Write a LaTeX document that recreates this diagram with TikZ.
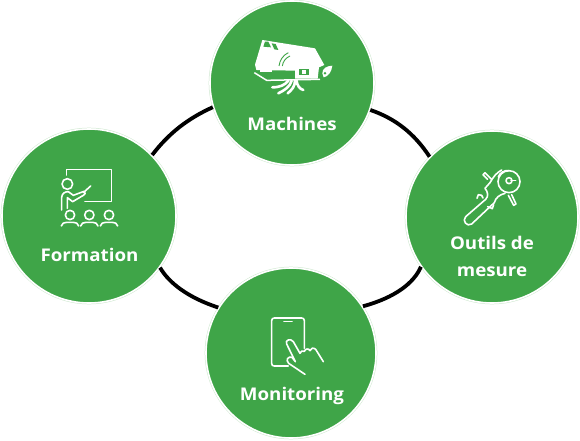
\documentclass[tikz,border=0pt]{standalone}
\usepackage{fontspec}
\setmainfont[FakeStretch=1.07]{Open Sans}
\definecolor{leaf}{HTML}{3FA548}
\definecolor{pale}{HTML}{CFE8D0}
\tikzset{
  hub/.style={circle,fill=leaf,draw=white,line width=1.6pt,inner sep=0pt,minimum size=#1,preaction={draw=pale,line width=2.6pt}},
  ring/.style={draw=black,line width=3.8pt},
  lab/.style={text=white,font=\bfseries\fontsize{17.5}{20}\selectfont,inner sep=0pt,align=center,anchor=base},
  ico/.style={draw=white,line width=1.6pt,line cap=round,line join=round,fill=none},
  icoshift/.style 2 args={shift={(#1,#2)},x=0.3333pt,y=-0.3333pt}
}
\begin{document}
\begin{tikzpicture}[x=1pt,y=-1pt]
\useasboundingbox (0,0) rectangle (580,441);
\coordinate (fc1) at (169,133); \coordinate (fc2) at (188,118.4);
\coordinate (rc1) at (395,118.4); \coordinate (rc2) at (414,133);
\coordinate (gc1) at (414,283); \coordinate (gc2) at (395,297.6);
\coordinate (hc1) at (188,297.6); \coordinate (hc2) at (169,283);
\node[hub=164pt] (machines) at (292,83) {};
\node[hub=174pt] (formation) at (89,216) {};
\node[hub=172pt] (outils) at (492,217) {};
\node[hub=170pt] (monitoring) at (291,353) {};
\draw[ring] (formation.44) .. controls (fc1) and (fc2) .. (machines.197);
\draw[ring] (machines.341) .. controls (rc1) and (rc2) .. (outils.136);
\draw[ring] (outils.215) .. controls (gc1) and (gc2) .. (monitoring.33);
\draw[ring] (monitoring.148) .. controls (hc1) and (hc2) .. (formation.-36);
\node[lab] (tm) at (292,130.7) {Machines};
\node[lab] (tf) at (89.5,261) {Formation};
\node[lab] (to1) at (492,249) {Outils de};
\node[lab] (to2) at (492,276.7) {mesure};
\node[lab] (tg) at (292,400.7) {Monitoring};
% machine icon
\begin{scope}[icoshift={245}{30}]
\fill[white] (52,30) -- (210,55) -- (238,105) -- (222,112) -- (218,146) -- (150,146) -- (150,122) -- (34,120) -- (30,104) -- cycle;
\fill[leaf] (163,116) rectangle (192,136);
\fill[white] (172,120) rectangle (184,131);
\fill[leaf] (60,35) -- (70,35) -- (78,52) -- (55,50) -- cycle;
\fill[leaf] (80,40) -- (92,42) -- (100,60) -- (88,58) -- cycle;
\draw[leaf,line width=.9pt] (102,108) .. controls (104,90) and (115,75) .. (130,68);
\draw[leaf,line width=.9pt] (112,108) .. controls (114,94) and (122,84) .. (135,78);
\fill[white] (46,117) rectangle (80,126);
\draw[white,line width=1.5pt,line join=round] (28,128) -- (65,151) -- (225,148);
\fill[white] (232,130) .. controls (232,115) and (245,108) .. (262,107) .. controls (260,125) and (250,140) .. (236,142) -- cycle;
\fill[leaf] (240,130) circle (4);
\draw[white,line width=2.6pt,line cap=round] (130,152) .. controls (120,165) and (105,172) .. (82,172);
\draw[white,line width=2.6pt,line cap=round] (140,152) .. controls (135,170) and (120,180) .. (100,190);
\draw[white,line width=2.6pt,line cap=round] (150,152) .. controls (150,170) and (140,180) .. (128,190);
\draw[white,line width=2.6pt,line cap=round] (155,152) .. controls (155,165) and (165,178) .. (175,180);
\end{scope}
% formation icon
\begin{scope}[icoshift={50}{160}]
\draw[ico] (50,45) -- (50,28) -- (185,28) -- (185,125) -- (105,125);
\draw[ico] (52,72) circle (16);
\draw[ico] (35,150) -- (35,112) .. controls (36,100) and (45,95) .. (55,95) -- (70,106) -- (102,94) .. controls (108,97) and (106,104) .. (100,106) -- (68,125) -- (52,113) -- (52,145);
\draw[ico] (100,98) -- (122,78);
\foreach \p in {60,118,177}{
  \draw[ico] (\p,165) circle (14);
  \draw[ico] (\p-26,198) .. controls (\p-24,190) and (\p-18,187) .. (\p-10,187) -- (\p+10,187) .. controls (\p+18,187) and (\p+24,190) .. (\p+26,198);
}
\end{scope}
% tool icon
\begin{scope}[icoshift={455}{160}]
\draw[ico] (162,65) circle (33);
\draw[ico] (162,62) circle (9);
\draw[ico] (168,62) -- (182,62);
\draw[ico] (130,50) .. controls (135,38) and (148,30) .. (162,32);
\draw[ico] (105,68) .. controls (115,50) and (125,38) .. (140,30);
\draw[ico] (105,68) -- (90,85) .. controls (98,95) and (102,108) .. (92,118) -- (32,170) .. controls (20,182) and (36,202) .. (50,192) -- (118,128) .. controls (122,112) and (135,104) .. (150,100);
\draw[ico] (98,58) -- (84,44) -- (90,38) -- (110,58);
\draw[ico] (160,106) -- (176,136) -- (183,132) -- (170,104);
\draw[ico] (66,115) -- (70,104) -- (80,106) -- (84,114);
\draw[ico] (98,140) -- (112,146) -- (116,134);
\end{scope}
% phone icon
\begin{scope}[icoshift={260}{310}]
\draw[ico] (133,115) -- (133,32) .. controls (133,27) and (130,24) .. (125,24) -- (43,24) .. controls (38,24) and (35,27) .. (35,32) -- (35,160) .. controls (35,166) and (38,168) .. (43,168) -- (85,168);
\draw[white,line width=1.6pt,line cap=round] (72,35) -- (96,35);
\draw[ico] (190,155) -- (167,118) .. controls (160,112) and (152,114) .. (150,122) .. controls (146,114) and (136,116) .. (133,124) .. controls (128,120) and (122,124) .. (120,130) -- (100,95) .. controls (92,84) and (74,90) .. (80,102) -- (106,155) -- (96,142) .. controls (84,138) and (76,150) .. (86,160) -- (135,193);
\end{scope}
\end{tikzpicture}
\end{document}
